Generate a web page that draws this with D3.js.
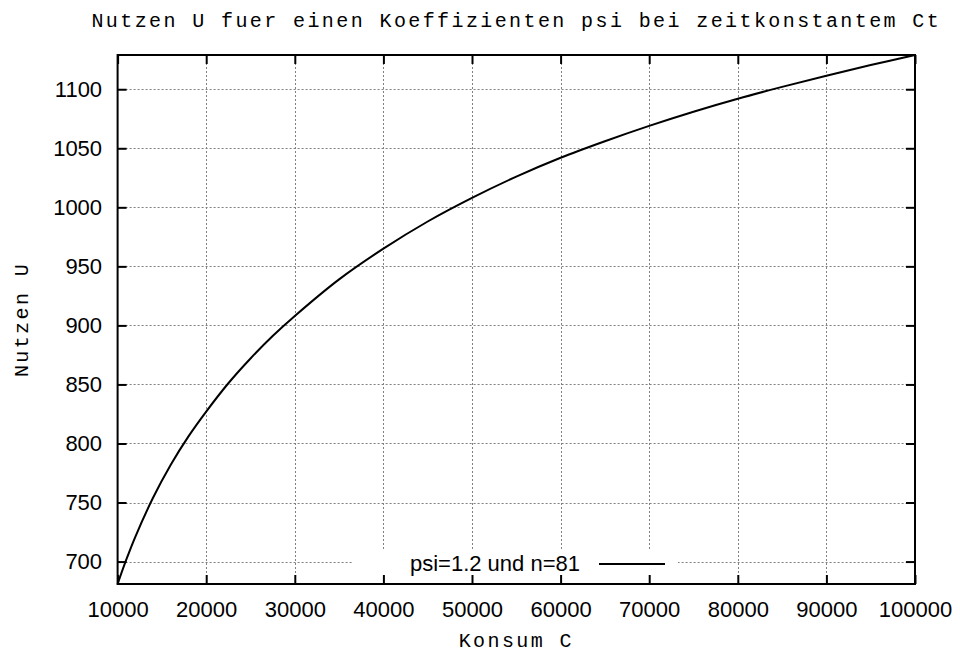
<!DOCTYPE html>
<html>
<head>
<meta charset="utf-8">
<script src="https://cdn.jsdelivr.net/npm/d3@7"></script>
<style>
  body { margin: 0; background: #fff; }
  svg { display: block; }
</style>
</head>
<body>
<div class="container"></div>
<script>
// values
const konsum = [10000, 11000, 12000, 14000, 16000, 18000, 20000, 22500, 25000, 27500,
  30000, 35000, 40000, 45000, 50000, 55000, 60000, 65000, 70000, 75000,
  80000, 85000, 90000, 95000, 100000];
const nutzen = [681, 702, 721, 754, 782, 806, 827, 851, 872, 891,
  908, 939, 965, 988, 1008, 1026, 1042, 1056, 1069, 1081,
  1092, 1102, 1111.5, 1120.5, 1129];
const xTicks = [10000, 20000, 30000, 40000, 50000, 60000, 70000, 80000, 90000, 100000];
const yTicks = [700, 750, 800, 850, 900, 950, 1000, 1050, 1100];
const seriesLabel = "psi=1.2 und n=81";

const w = 960;
const h = 655;
const pLeft = 117.6, pRight = 915, pTop = 55, pBottom = 584;
const sans = "'Liberation Sans', Arial, sans-serif";
const mono = "'Liberation Mono', 'DejaVu Sans Mono', monospace";

const svg = d3.select(".container")
  .append("svg")
  .attr("width", w)
  .attr("height", h);

const xScale = d3.scaleLinear().domain([10000, 100000]).range([pLeft, pRight]);
const yScale = d3.scaleLinear().domain([681, 1129]).range([pBottom, pTop]);

// grid (dotted)
const grid = svg.append("g")
  .attr("stroke", "#808080")
  .attr("stroke-width", 1)
  .attr("stroke-dasharray", "2,2");
grid.selectAll(".gx")
  .data(xTicks.filter(d => d > 10000 && d < 100000))
  .enter().append("line")
  .attr("x1", d => Math.round(xScale(d)) + 0.5)
  .attr("x2", d => Math.round(xScale(d)) + 0.5)
  .attr("y1", pTop)
  .attr("y2", pBottom);
grid.selectAll(".gy")
  .data(yTicks)
  .enter().append("line")
  .attr("x1", pLeft)
  .attr("x2", pRight)
  .attr("y1", d => Math.round(yScale(d)) + 0.5)
  .attr("y2", d => Math.round(yScale(d)) + 0.5);

// legend box hides the grid behind it
svg.append("rect")
  .attr("x", 352)
  .attr("y", 549)
  .attr("width", 326)
  .attr("height", pBottom - 549)
  .attr("fill", "#fff");

// curve
const line = d3.line()
  .x((d, i) => xScale(konsum[i]))
  .y(d => yScale(d))
  .curve(d3.curveCatmullRom);

svg.append("path")
  .datum(nutzen)
  .attr("d", line)
  .attr("fill", "none")
  .attr("stroke", "#000")
  .attr("stroke-width", 2);

// axes
const xAxis = d3.axisBottom(xScale)
  .tickValues(xTicks)
  .tickSizeInner(-9)
  .tickSizeOuter(0)
  .tickPadding(17)
  .tickFormat(d3.format("d"));
const yAxis = d3.axisLeft(yScale)
  .tickValues(yTicks)
  .tickSizeInner(-9)
  .tickSizeOuter(0)
  .tickPadding(15.5)
  .tickFormat(d3.format("d"));

svg.append("g")
  .attr("transform", "translate(0," + pBottom + ")")
  .call(xAxis)
  .call(g => g.select(".domain").remove());
svg.append("g")
  .attr("transform", "translate(" + pLeft + ",0)")
  .call(yAxis)
  .call(g => g.select(".domain").remove());
svg.append("g")
  .attr("transform", "translate(0," + pTop + ")")
  .call(d3.axisTop(xScale).tickValues(xTicks).tickSizeInner(-9).tickSizeOuter(0).tickFormat(""))
  .call(g => g.select(".domain").remove());
svg.append("g")
  .attr("transform", "translate(" + pRight + ",0)")
  .call(d3.axisRight(yScale).tickValues(yTicks).tickSizeInner(-9).tickSizeOuter(0).tickFormat(""))
  .call(g => g.select(".domain").remove());

svg.selectAll(".tick line")
  .attr("stroke", "#000")
  .attr("stroke-width", 2);
svg.selectAll(".tick text")
  .attr("fill", "#000")
  .style("font-family", sans)
  .style("font-size", "22px");

// frame
svg.append("rect")
  .attr("x", pLeft)
  .attr("y", pTop)
  .attr("width", pRight - pLeft)
  .attr("height", pBottom - pTop)
  .attr("fill", "none")
  .attr("stroke", "#000")
  .attr("stroke-width", 2);

// legend
svg.append("text")
  .attr("x", 580)
  .attr("y", 571)
  .attr("text-anchor", "end")
  .style("font-family", sans)
  .style("font-size", "22px")
  .text(seriesLabel);
svg.append("line")
  .attr("x1", 599)
  .attr("x2", 665)
  .attr("y1", 564)
  .attr("y2", 564)
  .attr("stroke", "#000")
  .attr("stroke-width", 2);

// titles
svg.append("text")
  .attr("x", (pLeft + pRight) / 2)
  .attr("y", 27)
  .attr("text-anchor", "middle")
  .style("font-family", mono)
  .style("font-size", "20px")
  .style("letter-spacing", "2.4px")
  .text("Nutzen U fuer einen Koeffizienten psi bei zeitkonstantem Ct");

svg.append("text")
  .attr("x", (pLeft + pRight) / 2)
  .attr("y", 647)
  .attr("text-anchor", "middle")
  .style("font-family", mono)
  .style("font-size", "20px")
  .style("letter-spacing", "2.4px")
  .text("Konsum C");

svg.append("text")
  .attr("transform", "translate(28," + (pTop + pBottom) / 2 + ") rotate(-90)")
  .attr("text-anchor", "middle")
  .style("font-family", mono)
  .style("font-size", "20px")
  .style("letter-spacing", "2.4px")
  .text("Nutzen U");
</script>
</body>
</html>
